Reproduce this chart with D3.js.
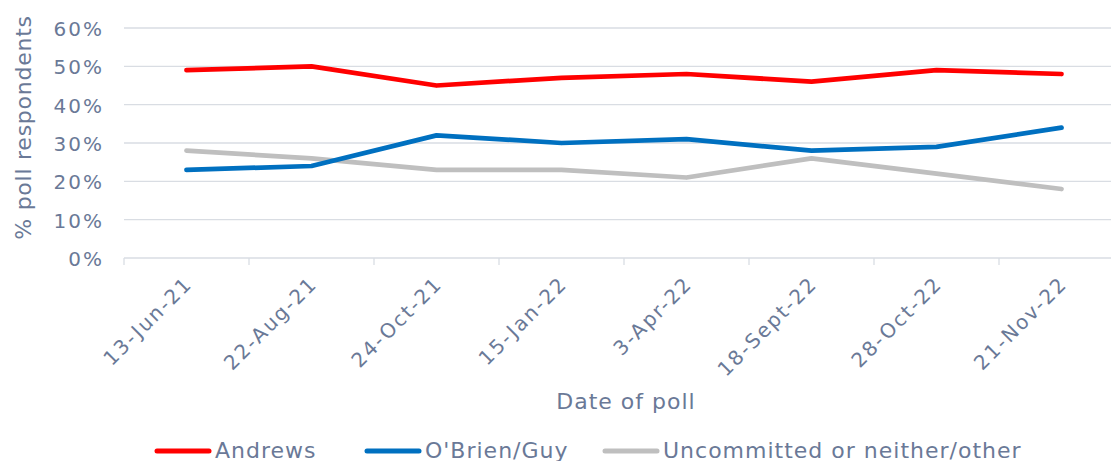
<!DOCTYPE html>
<html>
<head>
<meta charset="utf-8">
<script src="https://cdn.jsdelivr.net/npm/d3@7"></script>
<style>
  body { margin: 0; background: #fff; }
  svg { display: block; }
</style>
</head>
<body>
<script>
var CANVAS_WIDTH = 1111;
var CANVAS_HEIGHT = 461;
var FONT = "'DejaVu Sans', sans-serif";
var TEXT_COLOR = "#6a7997";

var dates = ["13-Jun-21", "22-Aug-21", "24-Oct-21", "15-Jan-22", "3-Apr-22", "18-Sept-22", "28-Oct-22", "21-Nov-22"];
var andrews = [49, 50, 45, 47, 48, 46, 49, 48];
var obrienGuy = [23, 24, 32, 30, 31, 28, 29, 34];
var uncommitted = [28, 26, 23, 23, 21, 26, 22, 18];
var yTicks = [0, 10, 20, 30, 40, 50, 60];

var series = [
    {name: "Andrews", values: andrews, color: "#ff0000"},
    {name: "O'Brien/Guy", values: obrienGuy, color: "#0070c0"},
    {name: "Uncommitted or neither/other", values: uncommitted, color: "#bfbfbf"}
];

var canvas = d3.select("body")
                .append("svg")
                .attr("width", CANVAS_WIDTH)
                .attr("height", CANVAS_HEIGHT);

var x = d3.scaleBand().domain(dates).range([124, 1124]);
var y = d3.scaleLinear().domain([0, 60]).range([258, 28]);

// gridlines
canvas.append("g")
    .selectAll("line")
    .data(yTicks)
    .join("line")
    .attr("x1", 124)
    .attr("x2", 1124)
    .attr("y1", d => y(d))
    .attr("y2", d => y(d))
    .attr("stroke", "#d9dde3")
    .attr("stroke-width", 1.3);

// y axis labels
var yAxis = canvas.append("g")
    .attr("transform", "translate(104,1)")
    .call(d3.axisLeft(y).tickValues(yTicks).tickSize(0).tickPadding(0).tickFormat(d => d + "%"));
yAxis.select(".domain").remove();
yAxis.selectAll("text")
    .attr("font-family", FONT)
    .attr("font-size", "20px")
    .attr("letter-spacing", "2px")
    .attr("fill", TEXT_COLOR);

// x axis, ticks sit between categories
var xAxis = canvas.append("g")
    .attr("transform", "translate(0,258)");
xAxis.selectAll("line")
    .data(dates.map(d => x(d)).concat([x(dates[dates.length - 1]) + x.bandwidth()]))
    .join("line")
    .attr("x1", d => d)
    .attr("x2", d => d)
    .attr("y1", 0)
    .attr("y2", 7)
    .attr("stroke", "#d9dde3")
    .attr("stroke-width", 1.3);

xAxis.selectAll("text")
    .data(dates)
    .join("text")
    .attr("transform", d => "translate(" + (x(d) + x.bandwidth() / 2 + 7) + ",27) rotate(-45)")
    .attr("text-anchor", "end")
    .attr("font-family", FONT)
    .attr("font-size", "20px")
    .attr("letter-spacing", "2px")
    .attr("fill", TEXT_COLOR)
    .text(d => d);

// axis titles
canvas.append("text")
    .attr("transform", "translate(31,127.5) rotate(-90)")
    .attr("text-anchor", "middle")
    .attr("font-family", FONT)
    .attr("font-size", "22px")
    .attr("letter-spacing", "0.75px")
    .attr("fill", TEXT_COLOR)
    .text("% poll respondents");

canvas.append("text")
    .attr("x", 626)
    .attr("y", 409)
    .attr("text-anchor", "middle")
    .attr("font-family", FONT)
    .attr("font-size", "22px")
    .attr("letter-spacing", "1px")
    .attr("fill", TEXT_COLOR)
    .text("Date of poll");

// lines
var line = d3.line()
    .x((d, i) => x(dates[i]) + x.bandwidth() / 2)
    .y(d => y(d));

canvas.append("g")
    .selectAll("path")
    .data(series.slice().reverse())
    .join("path")
    .attr("d", d => line(d.values))
    .attr("fill", "none")
    .attr("stroke", d => d.color)
    .attr("stroke-width", 4.75)
    .attr("stroke-linecap", "round")
    .attr("stroke-linejoin", "round");

// legend
var legendX = [157, 367, 605];
var legend = canvas.append("g")
    .selectAll("g")
    .data(series)
    .join("g")
    .attr("transform", (d, i) => "translate(" + legendX[i] + ",451)");
legend.append("line")
    .attr("x1", 0)
    .attr("x2", 52)
    .attr("stroke", d => d.color)
    .attr("stroke-width", 5)
    .attr("stroke-linecap", "round");
legend.append("text")
    .attr("x", 58)
    .attr("y", 6.5)
    .attr("font-family", FONT)
    .attr("font-size", "22px")
    .attr("letter-spacing", "1px")
    .attr("fill", TEXT_COLOR)
    .text(d => d.name);
</script>
</body>
</html>
